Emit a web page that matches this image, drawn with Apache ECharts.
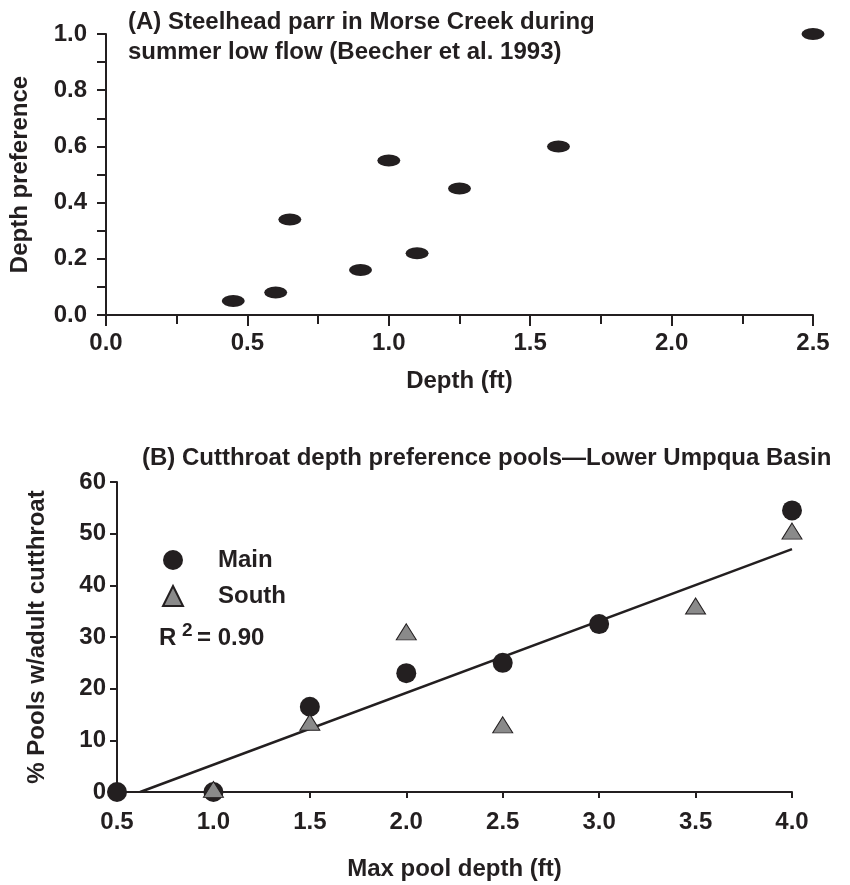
<!DOCTYPE html>
<html>
<head>
<meta charset="utf-8">
<script src="https://cdn.jsdelivr.net/npm/echarts@6/dist/echarts.min.js"></script>
<style>
  html, body { margin: 0; padding: 0; background: #fff; }
  #chart { width: 850px; height: 885px; }
</style>
</head>
<body>
<div id="chart"></div>
<script>
// Panel A: steelhead parr depth preference (Morse Creek)
const parrDepthFt = [0.45, 0.6, 0.65, 0.9, 1.0, 1.1, 1.25, 1.6, 2.5];
const parrPreference = [0.05, 0.08, 0.34, 0.16, 0.55, 0.22, 0.45, 0.6, 1.0];

// Panel B: cutthroat pools by max pool depth (Lower Umpqua Basin)
const mainDepthFt = [0.5, 1.0, 1.5, 2.0, 2.5, 3.0, 4.0];
const mainPctPools = [0, 0, 16.5, 23, 25, 32.5, 54.5];
const southDepthFt = [1.0, 1.5, 2.0, 2.5, 3.5, 4.0];
const southPctPools = [0.5, 13.5, 31, 13, 36, 50.5];

// Fitted regression line end points
const fitDepthFt = [0.62, 4.0];
const fitPctPools = [0, 47];
const rSquared = '0.90';

const seriesNames = ['Main', 'South'];

const INK = '#231f20';
const FONT = '"Liberation Sans", Arial, Helvetica, sans-serif';
const labelFont = { fontFamily: FONT, fontWeight: 'bold', fontSize: 24, color: INK };

const zip = (xs, ys) => xs.map((x, i) => [x, ys[i]]);

const ellipse = 'path://M0,6 A11.5,6 0 1,1 23,6 A11.5,6 0 1,1 0,6 Z';

const chart = echarts.init(document.getElementById('chart'), null, { renderer: 'canvas' });

chart.setOption({
  backgroundColor: '#ffffff',
  animation: false,
  title: [
    {
      text: '(A) Steelhead parr in Morse Creek during\nsummer low flow (Beecher et al. 1993)',
      left: 128, top: 7, padding: 0,
      textStyle: { ...labelFont, lineHeight: 30 }
    },
    {
      text: '(B) Cutthroat depth preference pools\u2014Lower Umpqua Basin',
      left: 142, top: 446, padding: 0,
      textStyle: { ...labelFont, lineHeight: 24 }
    }
  ],
  legend: {
    data: seriesNames,
    orient: 'vertical',
    left: 162, top: 548, padding: 0,
    itemWidth: 20, itemHeight: 20, itemGap: 12,
    textStyle: { ...labelFont, padding: [0, 0, 0, 30] }
  },
  graphic: [
    { type: 'text', left: 159, top: 626, style: { text: 'R', font: 'bold 24px ' + FONT, fill: INK } },
    { type: 'text', left: 182, top: 621, style: { text: '2', font: 'bold 19px ' + FONT, fill: INK } },
    { type: 'text', left: 197, top: 626, style: { text: '= ' + rSquared, font: 'bold 24px ' + FONT, fill: INK } }
  ],
  grid: [
    { left: 104, right: 37, top: 34, bottom: 570 },
    { left: 117, right: 58, top: 482, bottom: 93 }
  ],
  xAxis: [
    {
      gridIndex: 0, type: 'value', min: 0, max: 2.5, interval: 0.5,
      name: 'Depth (ft)', nameLocation: 'middle', nameGap: 54,
      nameTextStyle: labelFont,
      axisLine: { show: true, onZero: false, lineStyle: { color: INK, width: 2 } },
      axisTick: { show: true, length: 11, lineStyle: { color: INK, width: 2 } },
      minorTick: { show: true, splitNumber: 2, length: 9, lineStyle: { color: INK, width: 2 } },
      axisLabel: { ...labelFont, margin: 16, formatter: v => v.toFixed(1) },
      splitLine: { show: false }
    },
    {
      gridIndex: 1, type: 'value', min: 0.5, max: 4.0, interval: 0.5,
      name: 'Max pool depth (ft)', nameLocation: 'middle', nameGap: 65,
      nameTextStyle: labelFont,
      axisLine: { show: true, onZero: false, lineStyle: { color: INK, width: 2 } },
      axisTick: { show: true, length: 6, lineStyle: { color: INK, width: 2 } },
      axisLabel: { ...labelFont, margin: 18, formatter: v => v.toFixed(1) },
      splitLine: { show: false }
    }
  ],
  yAxis: [
    {
      gridIndex: 0, type: 'value', min: 0, max: 1, interval: 0.2,
      name: 'Depth preference', nameLocation: 'middle', nameGap: 74, nameRotate: 90,
      nameTextStyle: labelFont,
      axisLine: { show: true, onZero: false, lineStyle: { color: INK, width: 2 } },
      axisTick: { show: true, length: 9, lineStyle: { color: INK, width: 2 } },
      minorTick: { show: true, splitNumber: 2, length: 9, lineStyle: { color: INK, width: 2 } },
      axisLabel: { ...labelFont, margin: 19, formatter: v => v.toFixed(1) },
      splitLine: { show: false }
    },
    {
      gridIndex: 1, type: 'value', min: 0, max: 60, interval: 10,
      name: '% Pools w/adult cutthroat', nameLocation: 'middle', nameGap: 68, nameRotate: 90,
      nameTextStyle: labelFont,
      axisLine: { show: true, onZero: false, lineStyle: { color: INK, width: 2 } },
      axisTick: { show: true, length: 7, lineStyle: { color: INK, width: 2 } },
      axisLabel: { ...labelFont, margin: 11 },
      splitLine: { show: false }
    }
  ],
  series: [
    {
      name: 'Parr', type: 'scatter', xAxisIndex: 0, yAxisIndex: 0,
      data: zip(parrDepthFt, parrPreference),
      symbol: ellipse, symbolSize: [23, 12], clip: false,
      itemStyle: { color: INK, opacity: 1 }
    },
    {
      name: 'Fit', type: 'line', xAxisIndex: 1, yAxisIndex: 1,
      data: zip(fitDepthFt, fitPctPools),
      showSymbol: false, symbol: 'none', z: 1,
      lineStyle: { color: INK, width: 2.5 }
    },
    {
      name: 'Main', type: 'scatter', xAxisIndex: 1, yAxisIndex: 1,
      data: zip(mainDepthFt, mainPctPools),
      symbol: 'circle', symbolSize: 20, clip: false, z: 3,
      itemStyle: { color: INK, opacity: 1 }
    },
    {
      name: 'South', type: 'scatter', xAxisIndex: 1, yAxisIndex: 1,
      data: zip(southDepthFt, southPctPools),
      symbol: 'triangle', symbolSize: [20, 16], clip: false, z: 4,
      itemStyle: { color: '#8a8a8a', borderColor: INK, borderWidth: 1, opacity: 1 }
    }
  ]
});
</script>
</body>
</html>
